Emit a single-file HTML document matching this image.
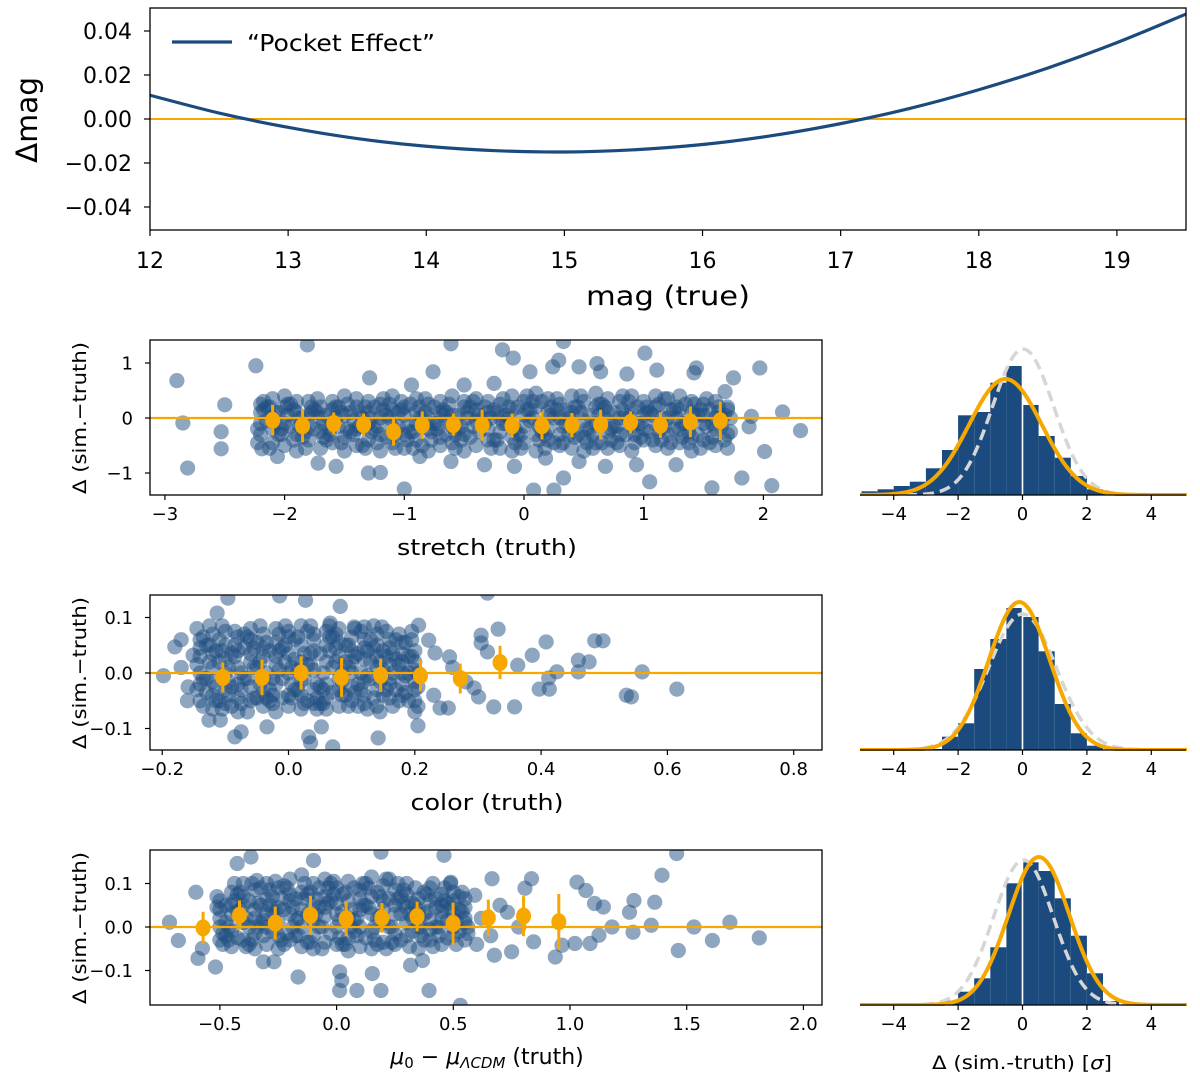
<!DOCTYPE html>
<html><head><meta charset="utf-8"><style>
html,body{margin:0;padding:0;background:#fff;}
svg{display:block;font-family:"DejaVu Sans","Liberation Sans",sans-serif;}
</style></head><body>
<svg id="chart" width="1200" height="1079" viewBox="0 0 1200 1079">
<defs>
<clipPath id="c0"><rect x="150" y="8" width="1036" height="222"/></clipPath>
<clipPath id="c1"><rect x="150" y="340" width="672" height="155"/></clipPath>
<clipPath id="c2"><rect x="150" y="595" width="672" height="155"/></clipPath>
<clipPath id="c3"><rect x="150" y="850" width="672" height="155"/></clipPath>
<clipPath id="h1"><rect x="860" y="330" width="327" height="166"/></clipPath>
<clipPath id="h2"><rect x="860" y="585" width="327" height="166"/></clipPath>
<clipPath id="h3"><rect x="860" y="840" width="327" height="166"/></clipPath>
</defs>
</svg>
<script>
// ---------- data ----------
const curveMag = [12,12.5,13,13.5,14,14.5,15,15.5,16,16.5,17,17.5,18,18.5,19,19.5];
const curveDelta = [0.0108,0.0027,-0.0038,-0.0089,-0.0124,-0.0144,-0.0150,-0.0140,-0.0116,-0.0076,-0.0021,0.0048,0.0133,0.0232,0.0347,0.0477];
const topXTicks = [12,13,14,15,16,17,18,19];
const topYTicks = [0.04,0.02,0,-0.02,-0.04];

const stretchCoreCols = [-2.2,-2.1,-2.0,-1.9,-1.8,-1.7,-1.6,-1.5,-1.4,-1.3,-1.2,-1.1,-1.0,-0.9,-0.8,-0.7,-0.6,-0.5,-0.4,-0.3,-0.2,-0.1,0,0.1,0.2,0.3,0.4,0.5,0.6,0.7,0.8,0.9,1.0,1.1,1.2,1.3,1.4,1.5,1.6,1.7];
const stretchCoreYs = [[.1,-.3,.25,-.1],[-.45,.35,0,-.2],[.2,-.5,-.1,.4],[-.3,.1,-.6,.3],[.05,-.4,.3,-.15],[-.25,.2,-.55,0],[.3,-.1,-.45,.15],[-.35,.05,.4,-.6],[.2,-.2,-.5,.35],[-.1,.3,-.4,.1],[-.6,0,.25,-.3],[.15,-.45,.4,-.15],[-.3,.2,-.55,.05],[.35,-.1,-.4,.1],[-.2,.25,-.6,0],[.1,-.35,.3,-.5],[-.15,.4,-.45,.05],[.2,-.3,-.6,.3],[-.05,.35,-.5,.15],[-.4,.1,.3,-.2],[.25,-.55,0,-.25],[-.35,.15,.4,-.6],[.05,-.45,.3,-.15],[-.3,.2,-.6,.45],[.1,-.4,.35,-.2],[-.5,.25,0,-.3],[.4,-.15,-.55,.1],[-.35,.3,-.05,-.6],[.2,-.45,.45,-.1],[-.25,.1,-.55,.35],[.3,-.3,0,-.5],[-.15,.4,-.6,.15],[.05,-.4,.3,-.2],[-.5,.2,-.1,.4],[.35,-.3,-.55,0],[-.2,.15,.4,-.45],[.1,-.35,.3,-.6],[-.1,.25,-.4,.05],[.3,-.5,0,-.2],[-.3,.15,-.55,.2]];
const stretchCoreYs2 = [[-.2,.15,-.45,.3],[.2,-.1,-.55,.1],[-.3,.05,-.2,.25],[.15,-.15,-.4,0],[-.55,.2,-.25,.1],[.35,-.35,.1,-.1],[-.2,0,-.3,.2],[.1,-.2,-.45,.25],[-.05,.1,-.3,-.15],[.2,-.25,-.55,0],[-.15,.15,-.45,.35],[0,-.3,.25,-.55],[.15,-.15,.3,-.4],[-.25,.2,-.55,0],[.1,-.4,.35,-.25],[-.1,.15,-.2,.05],[.25,-.3,-.05,-.55],[-.15,.1,-.4,0],[.3,-.25,-.15,.05],[-.1,-.55,.2,0],[.1,.35,-.4,-.1],[0,-.2,.2,-.45],[-.3,.15,-.55,.4],[0,-.15,.3,-.4],[-.3,.2,-.55,.05],[.15,-.15,.35,-.45],[-.3,.2,0,-.35],[.1,-.2,.4,-.45],[-.3,.05,-.55,.25],[0,-.2,.2,-.4],[-.15,.15,-.45,.4],[.3,-.3,0,-.45],[-.35,.2,-.1,.1],[.05,-.25,-.4,.25],[-.15,.15,.35,-.45],[0,-.35,.2,-.1],[-.25,.25,-.45,.05],[.15,-.15,-.55,.35],[-.1,.2,-.35,.1],[.05,-.25,-.4,0]];
const stretchMidCols = [-2.15,-2.05,-1.95,-1.85,-1.75,-1.65,-1.55,-1.45,-1.35,-1.25,-1.15,-1.05,-0.95,-0.85,-0.75,-0.65,-0.55,-0.45,-0.35,-0.25,-0.15,-0.05,0.05,0.15,0.25,0.35,0.45,0.55,0.65,0.75,0.85,0.95,1.05,1.15,1.25,1.35,1.45,1.55,1.65];
const stretchMidYs = [[-.05,.2],[.1,-.3],[-.15,.25],[0,-.35],[.15,-.2],[-.4,.05],[.2,-.15],[-.25,.1],[0,-.5],[.2,-.2],[-.35,.05],[.1,-.15],[-.25,.25],[0,-.5],[.2,-.1],[-.3,.1],[.05,-.2],[-.35,.2],[0,-.1],[.15,-.4],[-.1,.05],[.2,-.3],[-.05,.15],[-.25,.3],[0,-.45],[.15,-.1],[-.3,.2],[.05,-.2],[-.45,.25],[.1,-.15],[-.3,.05],[.2,-.1],[-.25,.1],[0,-.4],[.15,-.2],[-.1,.25],[.05,-.3],[-.45,.15],[0,-.15]];
const stretchOutliers = [[-2.90,.68],[-2.85,-.09],[-2.81,-.91],[-2.50,.24],[-2.53,-.25],[-2.53,-.56],[-2.24,.95],[-2.19,-.56],[-2.06,-.70],[-1.81,1.33],[-1.72,-.82],[-1.57,-.88],[-1.29,.73],[-1.30,-1.0],[-1.20,-.99],[-1.0,-1.29],[-.61,1.35],[-.76,.84],[-.18,1.24],[-.09,1.09],[.08,-1.31],[.25,-1.31],[.33,-1.09],[.33,1.39],[.29,1.05],[1.01,1.18],[1.11,.87],[1.44,.91],[1.57,-1.27],[1.82,-1.09],[1.97,.91],[2.07,-1.23],[2.16,.11],[2.31,-.23],[2.01,-.61],[1.88,-.16],[1.68,.48],[1.75,.73],[1.90,.03],[1.27,-.85],[1.05,-1.16],[.94,-.85],[.68,-.88],[.46,-.79],[.18,-.73],[-.08,-.88],[-.33,-.85],[-.61,-.79],[-.87,-.7],[.61,.99],[.64,.84],[.86,.80],[1.42,.82],[-.50,.6],[-.25,.63],[.05,.84],[.24,.93],[.46,.93],[-.94,.6]];
const stretchBinX = [-2.10,-1.85,-1.59,-1.34,-1.09,-0.85,-0.59,-0.35,-0.10,0.15,0.40,0.64,0.89,1.14,1.39,1.64];
const stretchBinY = [-0.04,-0.14,-0.10,-0.12,-0.25,-0.13,-0.12,-0.13,-0.14,-0.14,-0.13,-0.12,-0.08,-0.13,-0.07,-0.05];
const stretchBinErr = [0.28,0.30,0.20,0.20,0.25,0.25,0.20,0.28,0.22,0.25,0.22,0.27,0.20,0.23,0.28,0.35];
const stretchTicks = [-3,-2,-1,0,1,2];
const stretchYTicks = [1,0,-1];

const colorCoreCols = [-0.14,-0.12,-0.10,-0.08,-0.06,-0.04,-0.02,0,0.02,0.04,0.06,0.08,0.10,0.12,0.14,0.16,0.18,0.20];
const colorCoreYs = [[.03,-.02,.06,-.05,0,.045],[-.04,.07,.01,-.065,.035,-.015],[.05,-.03,.075,0,-.055,.025],[-.02,.04,-.07,.065,.01,-.045],[.06,-.05,.02,.08,-.025,.035],[-.06,.03,-.01,.07,.045,-.035],[.015,-.07,.055,-.02,.08,.03],[-.04,.065,0,-.06,.035,.075],[.05,-.015,-.065,.085,.02,-.04],[-.03,.07,.04,-.055,.005,.06],[.075,-.045,.02,-.02,.05,-.065],[-.01,.055,-.06,.03,.08,-.03],[.04,-.05,.065,0,-.025,.02],[-.055,.025,.06,-.015,.045,-.04],[.01,-.03,.05,-.06,.03,.07],[-.02,.045,-.045,.015,.06,-.01],[.035,-.04,0,.055,-.02,.02],[-.03,.02,-.05,.04,.005,-.015]];
const colorCoreYs2 = [[-.03,.065,.015,-.06,.08,-.01],[.05,-.025,.085,-.05,.02,.04],[-.065,.01,.04,-.015,.085,-.04],[.03,-.055,.075,-.03,.05,0],[-.01,.045,-.07,.01,.065,-.045],[.02,-.045,.085,0,-.02,.055],[-.04,.04,-.01,.07,-.055,.005],[.02,-.02,.05,-.045,.085,.01],[-.03,.035,.065,-.01,.005,-.055],[.015,-.045,.085,-.02,.035,-.065],[-.055,.04,0,.065,-.03,.085],[.02,-.04,.07,-.015,.045,0],[-.06,.08,.01,-.035,.05,.03],[.075,-.005,-.03,.04,0,-.065],[-.045,.02,.085,-.015,.045,-.07],[.03,-.06,.075,0,-.03,.035],[-.05,.055,.015,-.035,.07,-.005],[.06,-.025,.03,-.06,.075,0]];
const colorMidCols = [-0.13,-0.11,-0.09,-0.07,-0.05,-0.03,-0.01,0.01,0.03,0.05,0.07,0.09,0.11,0.13,0.15,0.17,0.19];
const colorMidYs = [[-.01,.05,-.035],[.02,-.05,.06],[-.025,.035,-.06],[.045,-.01,.07],[-.045,.01,.055],[.04,-.03,-.05],[-.01,.045,-.045],[.025,-.03,.06],[-.05,.015,.075],[.035,-.025,-.055],[-.035,.01,.065],[.02,-.04,.05],[-.02,.035,-.06],[.06,-.01,.02],[-.04,.04,.005],[.025,-.03,.06],[-.05,.03,0]];
const colorOutliers = [[-.198,-.005],[-.18,.047],[-.159,-.025],[-.151,.032],[-.113,.108],[-.096,.135],[-.126,-.085],[-.108,-.085],[-.085,-.115],[-.075,-.106],[-.034,-.097],[-.014,.139],[.027,.131],[.082,.12],[.066,.09],[.035,-.126],[.07,-.133],[.032,-.115],[.052,-.097],[.104,.083],[.12,.083],[.148,.083],[.142,-.117],[.206,.086],[.205,-.095],[.222,.059],[.24,-.063],[.253,-.063],[.232,.036],[.255,.029],[.281,-.016],[.305,.068],[.332,.079],[.305,.054],[.315,.038],[.294,-.027],[.301,-.043],[.325,-.061],[.358,-.061],[.363,.014],[.386,.032],[.408,.056],[.397,-.029],[.413,-.029],[.412,-.009],[.425,.002],[.459,.023],[.459,.002],[.476,.02],[.485,.058],[.498,.058],[.535,-.04],[.543,-.043],[.56,.002],[.615,-.029],[.315,.144],[.23,-.04],[.26,.01],[.2,-.07],[-.17,.01],[-.16,-.05],[-.17,.06]];
const colorBinX = [-0.104,-0.042,0.020,0.084,0.146,0.209,0.272,0.335];
const colorBinY = [-0.008,-0.008,0.0,-0.008,-0.004,-0.005,-0.010,0.019];
const colorBinErr = [0.027,0.032,0.030,0.035,0.030,0.028,0.027,0.030];
const colorTicks = [-0.2,0,0.2,0.4,0.6,0.8];
const colorTickLabels = ["\u22120.2","0.0","0.2","0.4","0.6","0.8"];
const colorYTicks = [0.1,0,-0.1];

const muCoreCols = [-0.50,-0.45,-0.40,-0.35,-0.30,-0.25,-0.20,-0.15,-0.10,-0.05,0,0.05,0.10,0.15,0.20,0.25,0.30,0.35,0.40,0.45,0.50,0.55];
const muCoreYs = [[.02,-.03,.06,0,.04],[.08,-.01,.03,-.045,.05],[-.03,.05,.1,.01,.07],[.04,-.05,.085,.02,-.015],[.065,0,-.04,.1,.03],[-.02,.09,.045,-.05,.01],[.11,.03,-.03,.06,.075],[0,.08,-.045,.04,.12],[.05,-.02,.1,.015,-.05],[-.035,.07,.025,.11,.045],[.09,0,-.04,.055,.03],[.02,.105,-.025,.06,-.055],[-.045,.04,.085,0,.065],[.07,-.01,.115,.03,-.05],[.01,.06,-.035,.095,.04],[.085,-.04,.03,.05,-.015],[-.02,.075,.01,.1,.045],[.04,-.05,.065,0,.025],[.06,.015,-.03,.09,-.005],[-.04,.05,.02,.075,.035],[.03,-.02,.06,0,.08],[.01,.045,-.03,.065,.02]];
const muCoreYs2 = [[.07,-.015,.045,-.04],[0,.06,-.03,.1],[.04,-.045,.08,.02],[.1,0,-.03,.055],[.015,.085,-.02,.05],[.035,-.03,.105,.065],[-.015,.045,.09,0],[.02,.1,-.02,.065],[.08,.03,-.035,.065],[0,.09,-.05,.055],[.075,-.025,.105,.015],[.08,.04,-.04,0],[.02,.1,-.02,.05],[.045,-.03,.09,0],[.07,-.05,.025,.11],[0,.065,-.035,.1],[.055,-.045,.085,.03],[.09,-.02,.05,0],[.035,-.045,.075,.1],[0,.09,-.02,.06],[.045,-.04,.1,.015],[.08,-.015,.035,0]];
const muMidCols = [-0.475,-0.425,-0.375,-0.325,-0.275,-0.225,-0.175,-0.125,-0.075,-0.025,0.025,0.075,0.125,0.175,0.225,0.275,0.325,0.375,0.425,0.475,0.525];
const muMidYs = [[.01,.05,-.02],[.035,-.025,.075],[0,.06,-.04],[.05,.01,.09],[-.01,.07,.035],[.04,-.04,.095],[.015,.065,-.02],[.075,-.035,.03],[0,.09,.045],[.06,-.015,.1],[.035,.075,-.04],[.015,.09,-.01],[.05,-.025,.1],[.02,.08,-.04],[.065,0,.11],[.03,-.03,.07],[.055,-.01,.02],[.08,.03,-.03],[0,.045,.065],[-.025,.055,.015],[.04,-.01,.07]];
const muOutliers = [[-.716,.011],[-.678,-.031],[-.603,.08],[-.594,-.072],[-.519,-.092],[-.575,-.049],[-.426,.146],[-.367,.161],[-.342,.107],[-.314,-.08],[-.268,-.08],[-.165,-.115],[-.099,.153],[.013,-.103],[.022,-.123],[.013,-.146],[.087,-.146],[.153,-.107],[.19,-.146],[.19,.172],[.317,-.088],[.368,-.077],[.396,-.146],[.46,.165],[.489,.103],[.53,-.18],[.592,.073],[.666,.111],[.676,-.065],[.75,-.057],[.835,.111],[.844,-.034],[.937,-.069],[.966,-.042],[1.021,-.038],[1.03,.103],[1.068,.084],[1.086,-.038],[1.105,.054],[1.143,.046],[1.18,0],[1.124,-.019],[1.255,.034],[1.274,.061],[1.27,-.012],[1.348,.004],[1.363,.057],[1.394,.119],[1.464,-.054],[1.457,.169],[1.531,0],[1.61,-.031],[1.685,.011],[1.811,-.025],[.807,.089],[.732,.034],[.62,.02],[.66,-.02],[.7,.05],[.6,-.04],[.78,0]];
const muBinX = [-0.572,-0.416,-0.263,-0.112,0.041,0.194,0.345,0.499,0.650,0.801,0.952];
const muBinY = [-0.002,0.027,0.009,0.027,0.019,0.021,0.024,0.008,0.021,0.025,0.012];
const muBinErr = [0.037,0.034,0.038,0.045,0.040,0.034,0.034,0.048,0.042,0.046,0.064];
const muTicks = [-0.5,0,0.5,1.0,1.5,2.0];
const muTickLabels = ["\u22120.5","0.0","0.5","1.0","1.5","2.0"];
const muYTicks = [0.1,0,-0.1];

const histEdgeStart = -5;
const histBinWidth = 0.5;
const histStretch = [3.7,5.7,9,13.3,26.7,45,79.7,83,112.3,129,90,59,37.3,19,5.7,1.5,0,0,0,0];
const histColor = [0,0,0,0,1,13.3,26.7,81,111,142,133,98.7,46,16.7,4.3,0,0,0,0,0];
const histMu = [0,0,0,0,0,4.3,13.3,26.7,57.7,121.7,142.7,134,106.7,69.3,31.7,4,0,0,0,0];
const fitStretch = [-0.53,1.13,116];
const fitColor = [-0.10,0.95,148];
const fitMu = [0.51,0.95,148];
const refStretch = [0.02,0.95,146];
const refColor = [0,1.05,136];
const refMu = [0.03,0.93,145];
const histTicks = [-4,-2,0,2,4];

// ---------- drawing ----------
const svg = document.getElementById('chart');
const NS = svg.namespaceURI;
const BLUE = '#1b4b7e', ORANGE = '#f7a800', DOT = 'rgba(31,78,130,0.5)';
function mk(tag, attrs, parent){ const e = document.createElementNS(NS, tag); for (const k in attrs) e.setAttribute(k, attrs[k]); (parent||svg).appendChild(e); return e; }
function fmt(v, d){ const s = Math.abs(v).toFixed(d); return (v < -1e-9 ? '\u2212' : '') + s; }
function group(name, clip){ const g = mk('g', clip ? {'clip-path':'url(#'+clip+')'} : {});   return g; }

// Top panel
const tx = v => 150 + (v - 12) * 138.13;
const ty = v => 119 - v * 2200;
const topG = group('pocket-effect-panel');
const zl = mk('line', {x1:150, x2:1186, y1:ty(0), y2:ty(0), stroke:ORANGE, 'stroke-width':2}, topG);


{
  const P = curveMag.map((m,i)=>[tx(m), ty(curveDelta[i])]);
  let d = 'M'+P[0][0]+','+P[0][1];
  for (let i=0;i<P.length-1;i++){
    const p0=P[Math.max(0,i-1)], p1=P[i], p2=P[i+1], p3=P[Math.min(P.length-1,i+2)];
    d += ' C'+(p1[0]+(p2[0]-p0[0])/6)+','+(p1[1]+(p2[1]-p0[1])/6)+' '+(p2[0]-(p3[0]-p1[0])/6)+','+(p2[1]-(p3[1]-p1[1])/6)+' '+p2[0]+','+p2[1];
  }
  const c = mk('path', {d:d, fill:'none', stroke:BLUE, 'stroke-width':3.2}, mk('g',{'clip-path':'url(#c0)'},topG));
  
  
}
const tf = mk('rect', {x:150, y:8, width:1036, height:222, fill:'none', stroke:'#000', 'stroke-width':1.3}, topG);


topXTicks.forEach(v=>{
  const t = mk('line', {x1:tx(v), x2:tx(v), y1:230, y2:236, stroke:'#000', 'stroke-width':1.2}, topG);
  
  
  const l = mk('text', {x:tx(v), y:268, 'font-size':22, 'text-anchor':'middle'}, topG);
  
  
  l.textContent = String(v);
});
topYTicks.forEach(v=>{
  const t = mk('line', {x1:144, x2:150, y1:ty(v), y2:ty(v), stroke:'#000', 'stroke-width':1.2}, topG);
  
  
  const l = mk('text', {x:132, y:ty(v)+8, 'font-size':22, 'text-anchor':'end'}, topG);
  
  
  l.textContent = fmt(v,2);
});
{
  const xl = mk('text', {x:668, y:305, 'font-size':27, 'text-anchor':'middle', textLength:164, lengthAdjust:'spacingAndGlyphs'}, topG);
  
  
  xl.textContent = 'mag (true)';
  const yl = mk('text', {x:0, y:0, 'font-size':29, 'text-anchor':'middle', textLength:86, lengthAdjust:'spacingAndGlyphs', transform:'translate(37,120) rotate(-90)'}, topG);
  
  
  yl.textContent = '\u0394mag';
  const ll = mk('line', {x1:172, x2:232, y1:42, y2:42, stroke:BLUE, 'stroke-width':3.2}, topG);
  
  
  const lt = mk('text', {x:247, y:51, 'font-size':23, textLength:188, lengthAdjust:'spacingAndGlyphs'}, topG);
  
  
  lt.textContent = '\u201cPocket Effect\u201d';
}

// Scatter panels
function scatterPanel(o){
  const g = group(o.name);
  const pg = group(o.name+'-points', o.clip);
  g.appendChild(pg);
  const pts = [];
  o.coreCols.forEach((x,i)=>o.coreYs[i].forEach(y=>pts.push([x,y])));
  o.coreCols.forEach((x,i)=>o.coreYs2[i].forEach((y,j)=>pts.push([x + (j%2 ? 0.25 : -0.25)*o.colStep, y])));
  o.midCols.forEach((x,i)=>o.midYs[i].forEach(y=>pts.push([x,y])));
  o.outliers.forEach(p=>pts.push(p));
  pts.forEach(p=>{
    const c = mk('circle', {cx:o.x(p[0]), cy:o.y(p[1]), r:7.6, fill:DOT}, pg);
    
    
  });
  const hl = mk('line', {x1:150, x2:822, y1:o.y(0), y2:o.y(0), stroke:ORANGE, 'stroke-width':2.2}, pg);
  
  
  o.binX.forEach((x,i)=>{
    const e = mk('line', {x1:o.x(x), x2:o.x(x), y1:o.y(o.binY[i]+o.binErr[i]), y2:o.y(o.binY[i]-o.binErr[i]), stroke:ORANGE, 'stroke-width':3}, pg);
    
    
    const m = mk('ellipse', {cx:o.x(x), cy:o.y(o.binY[i]), rx:7.5, ry:8.5, fill:ORANGE}, pg);
    
    
  });
  const f = mk('rect', {x:150, y:o.top, width:672, height:155, fill:'none', stroke:'#000', 'stroke-width':1.3}, g);
  
  
  const b = o.top+155;
  o.xTicks.forEach((v,i)=>{
    const t = mk('line', {x1:o.x(v), x2:o.x(v), y1:b, y2:b+5, stroke:'#000', 'stroke-width':1.2}, g);
    
    
    const l = mk('text', {x:o.x(v), y:b+25, 'font-size':18, 'text-anchor':'middle'}, g);
    
    
    l.textContent = o.xLabels[i];
  });
  o.yTicks.forEach(v=>{
    const t = mk('line', {x1:145, x2:150, y1:o.y(v), y2:o.y(v), stroke:'#000', 'stroke-width':1.2}, g);
    
    
    const l = mk('text', {x:133, y:o.y(v)+6.5, 'font-size':18, 'text-anchor':'end'}, g);
    
    
    l.textContent = fmt(v, o.yDec);
  });
  const yl = mk('text', {x:0, y:0, 'font-size':19, 'text-anchor':'middle', textLength:152, lengthAdjust:'spacingAndGlyphs', transform:'translate(86,'+(o.top+78)+') rotate(-90)'}, g);
  
  
  yl.textContent = '\u0394 (sim.\u2212truth)';
  return g;
}
const s1 = scatterPanel({name:'stretch-scatter', clip:'c1', top:340, x:v=>524+119.7*v, y:v=>418-55*v, colStep:0.1,
  coreCols:stretchCoreCols, coreYs:stretchCoreYs, coreYs2:stretchCoreYs2, midCols:stretchMidCols, midYs:stretchMidYs, outliers:stretchOutliers,
  binX:stretchBinX, binY:stretchBinY, binErr:stretchBinErr, xTicks:stretchTicks, xLabels:stretchTicks.map(v=>fmt(v,0)), yTicks:stretchYTicks, yDec:0});
const s2 = scatterPanel({name:'color-scatter', clip:'c2', top:595, x:v=>288.5+631.5*v, y:v=>673-555*v, colStep:0.02,
  coreCols:colorCoreCols, coreYs:colorCoreYs, coreYs2:colorCoreYs2, midCols:colorMidCols, midYs:colorMidYs, outliers:colorOutliers,
  binX:colorBinX, binY:colorBinY, binErr:colorBinErr, xTicks:colorTicks, xLabels:colorTickLabels, yTicks:colorYTicks, yDec:1});
const s3 = scatterPanel({name:'distance-modulus-scatter', clip:'c3', top:850, x:v=>336.6+233.4*v, y:v=>927-435*v, colStep:0.05,
  coreCols:muCoreCols, coreYs:muCoreYs, coreYs2:muCoreYs2, midCols:muMidCols, midYs:muMidYs, outliers:muOutliers,
  binX:muBinX, binY:muBinY, binErr:muBinErr, xTicks:muTicks, xLabels:muTickLabels, yTicks:muYTicks, yDec:1});
{
  const a = mk('text', {x:487, y:555, 'font-size':22, 'text-anchor':'middle', textLength:180, lengthAdjust:'spacingAndGlyphs'}, s1);
  
  
  a.textContent = 'stretch (truth)';
  const b = mk('text', {x:487, y:810, 'font-size':22, 'text-anchor':'middle', textLength:153, lengthAdjust:'spacingAndGlyphs'}, s2);
  
  
  b.textContent = 'color (truth)';
  const c = mk('text', {x:487, y:1064, 'font-size':22, 'text-anchor':'middle'}, s3);
  
  
  c.innerHTML = '<tspan font-style="italic">\u03bc</tspan><tspan font-size="15" dy="4">0</tspan><tspan dy="-4"> \u2212 </tspan><tspan font-style="italic">\u03bc</tspan><tspan font-size="15" font-style="italic" dy="4">\u039bCDM</tspan><tspan dy="-4"> (truth)</tspan>';
}

// Histogram panels
function gaussPath(x, base, p){
  let d = '';
  for (let v=-5.2; v<=5.21; v+=0.05){
    const h = p[2]*Math.exp(-0.5*Math.pow((v-p[0])/p[1],2));
    d += (d?' L':'M') + x(v).toFixed(2) + ',' + (base-h).toFixed(2);
  }
  return d;
}
function histPanel(name, clip, base, counts, fit, ref){
  const x = v => 1022.5 + 32.2*v;
  const g = group(name);
  const pg = group(name+'-plot', clip);
  g.appendChild(pg);
  counts.forEach((c,i)=>{
    if (c<=0) return;
    const x0 = histEdgeStart + i*histBinWidth;
    const r = mk('rect', {x:x(x0), y:base-c, width:x(x0+histBinWidth)-x(x0), height:c, fill:BLUE}, pg);
    
    
  });
  const vl = mk('line', {x1:x(0), x2:x(0), y1:base, y2:base-170, stroke:'#fff', 'stroke-width':1.6}, pg);
  
  
  const rp = mk('path', {d:gaussPath(x, base, ref), fill:'none', stroke:'#d6d6d6', 'stroke-width':3.5, 'stroke-dasharray':'11,6'}, pg);
  
  
  const fp = mk('path', {d:gaussPath(x, base, fit), fill:'none', stroke:ORANGE, 'stroke-width':4}, pg);
  
  
  const sp = mk('line', {x1:860, x2:1186, y1:base, y2:base, stroke:'#000', 'stroke-width':1.3}, g);
  
  
  histTicks.forEach(v=>{
    const t = mk('line', {x1:x(v), x2:x(v), y1:base, y2:base+5, stroke:'#000', 'stroke-width':1.2}, g);
    
    
    const l = mk('text', {x:x(v), y:base+25, 'font-size':18, 'text-anchor':'middle'}, g);
    
    
    l.textContent = fmt(v,0);
  });
  return g;
}
histPanel('stretch-residual-hist', 'h1', 495, histStretch, fitStretch, refStretch);
histPanel('color-residual-hist', 'h2', 750, histColor, fitColor, refColor);
const h3 = histPanel('distance-residual-hist', 'h3', 1005, histMu, fitMu, refMu);
{
  const t = mk('text', {x:1022, y:1069, 'font-size':19, 'text-anchor':'middle', textLength:180, lengthAdjust:'spacingAndGlyphs'}, h3);
  
  
  t.innerHTML = '\u0394 (sim.-truth) [<tspan font-style="italic">\u03c3</tspan>]';
}
</script>
</body></html>
